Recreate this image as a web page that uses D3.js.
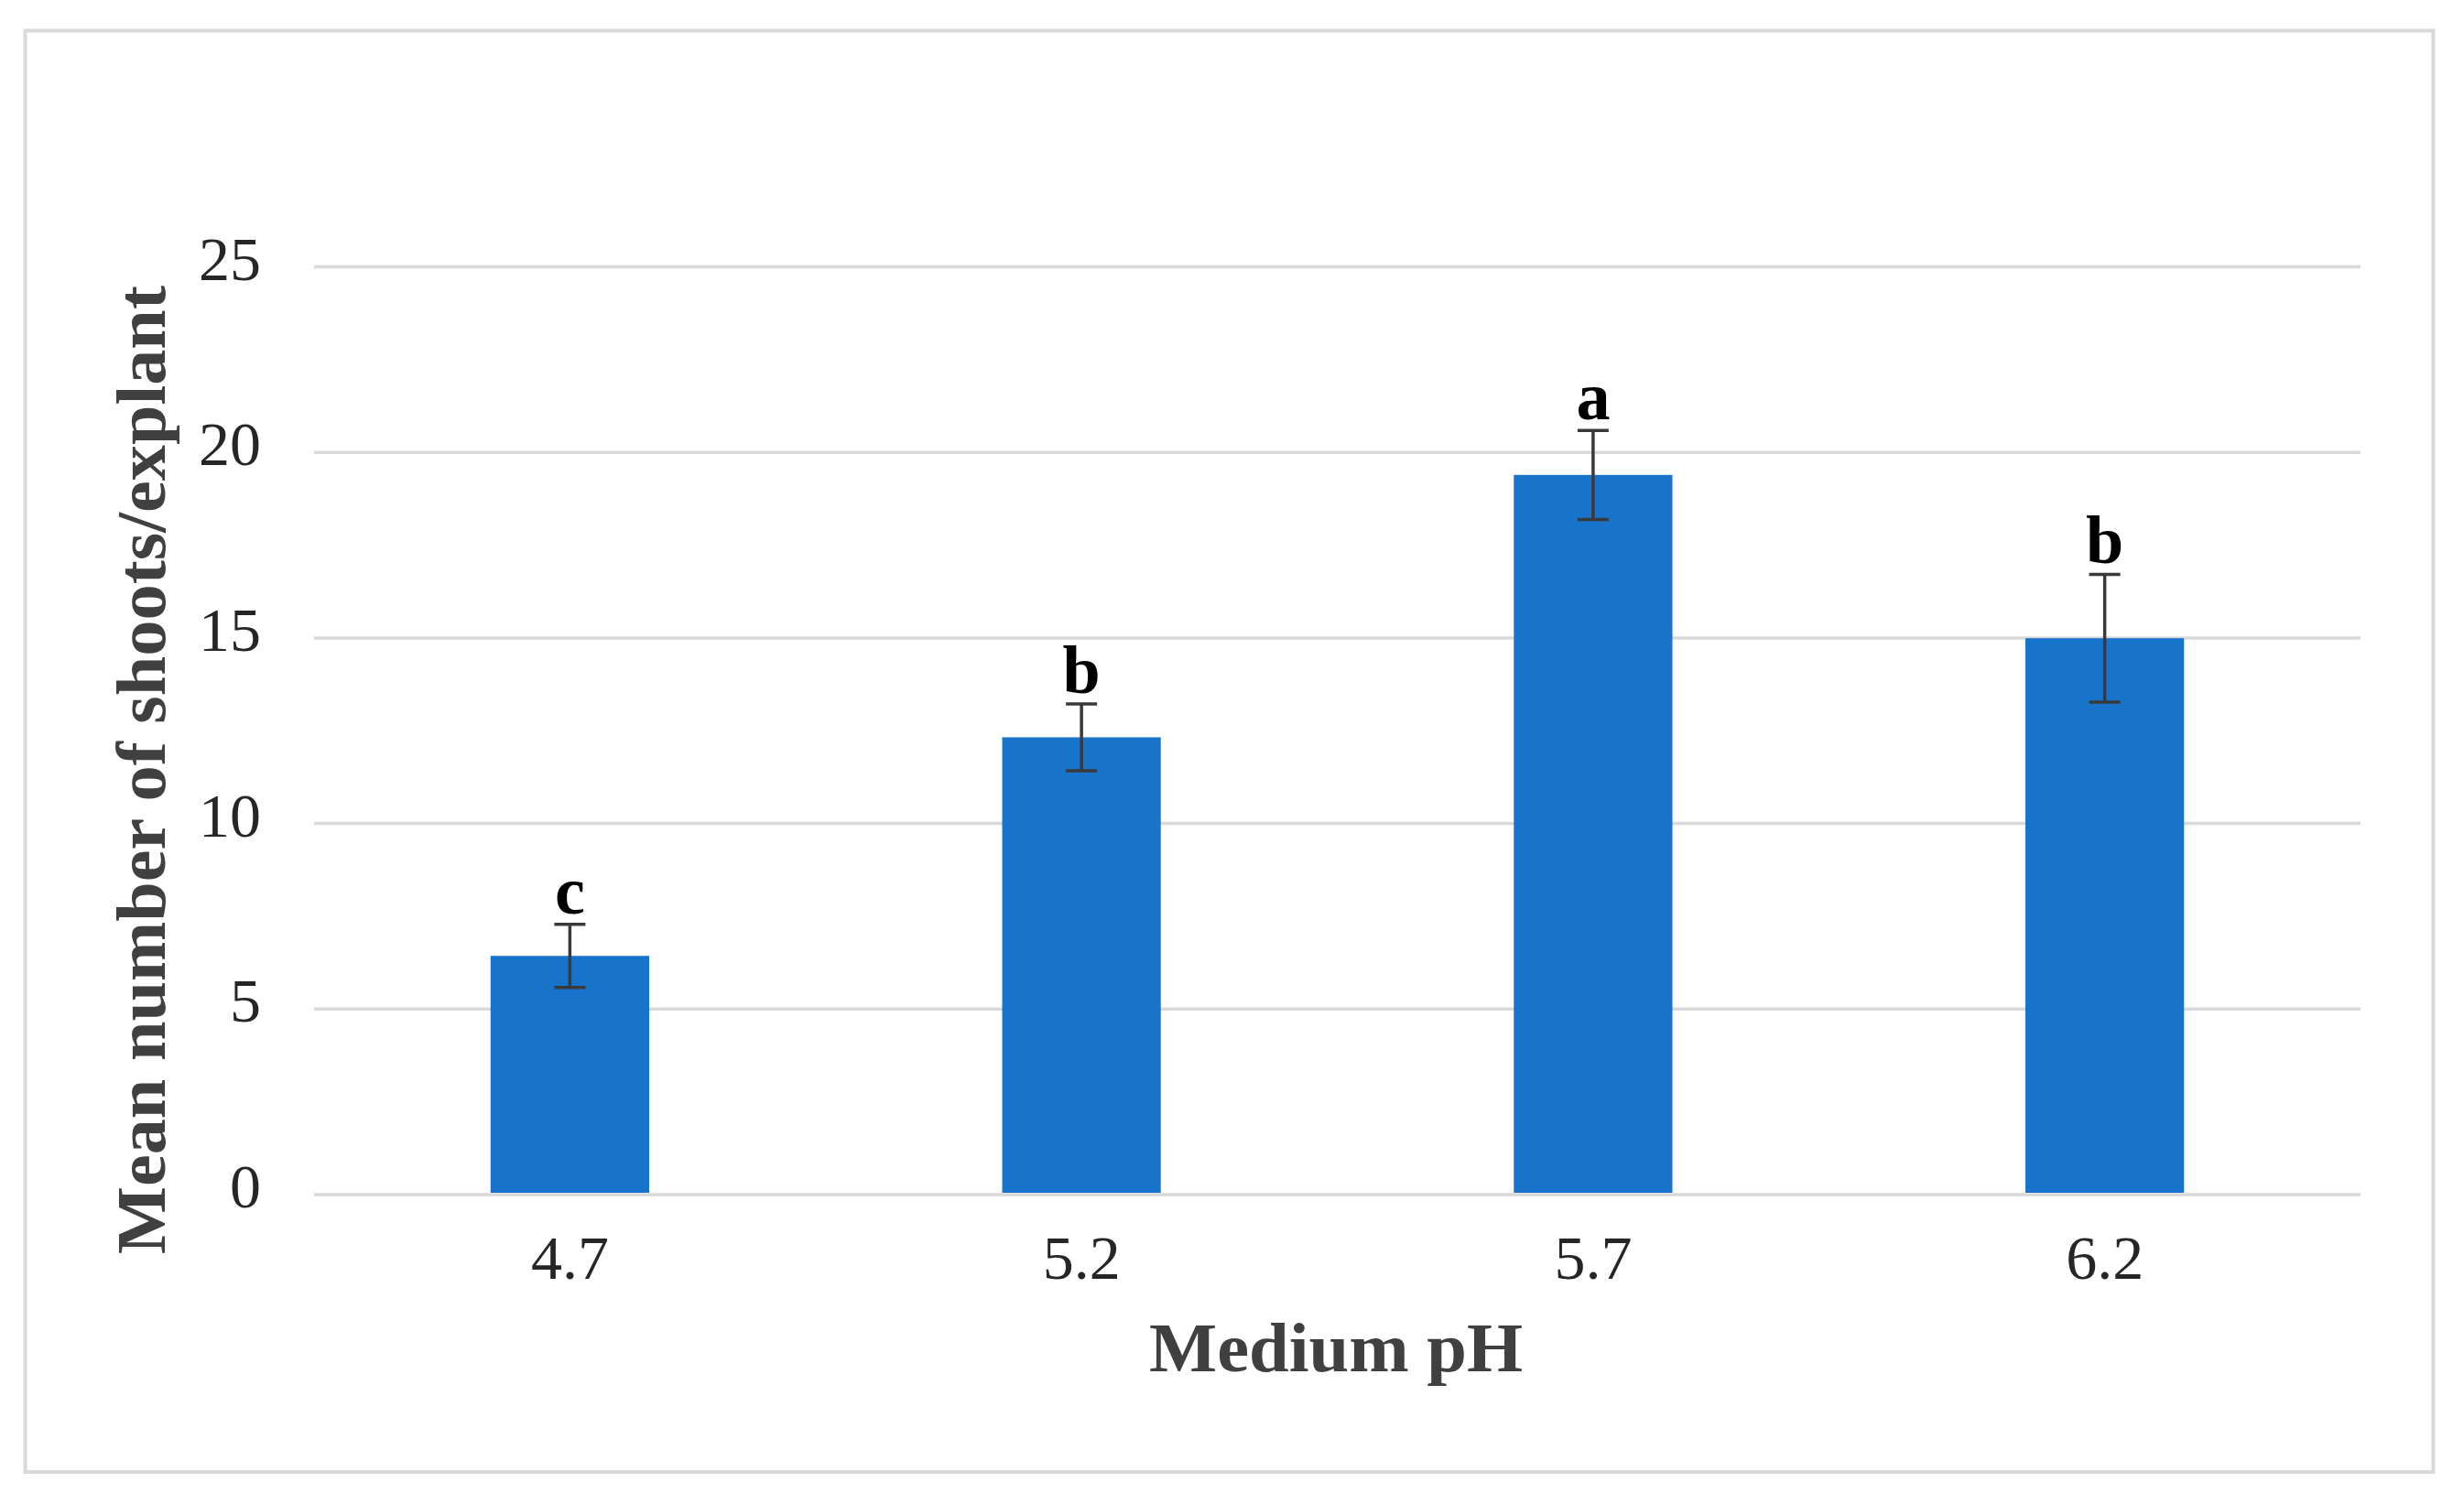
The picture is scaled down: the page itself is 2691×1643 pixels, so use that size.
<!DOCTYPE html>
<html>
<head>
<meta charset="utf-8">
<script src="https://cdn.jsdelivr.net/npm/d3@7"></script>
<style>
  html, body { margin: 0; padding: 0; background: #fff; }
  svg { display: block; }
</style>
</head>
<body>
<script>
// ---- data ----
const categories = ["4.7", "5.2", "5.7", "6.2"];
const means = [6.42, 12.31, 19.38, 14.98];
const errors = [0.85, 0.9, 1.2, 1.72];
const letters = ["c", "b", "a", "b"];
const yTicks = [0, 5, 10, 15, 20, 25];
const yTitle = "Mean number of shoots/explant";
const xTitle = "Medium pH";

// ---- layout ----
const W = 2691, H = 1643;
const plot = { left: 343, right: 2578, top: 291, bottom: 1304.5 };
const serif = "'Liberation Serif', 'Times New Roman', serif";

const svg = d3.select("body").append("svg")
  .attr("width", W).attr("height", H);

svg.append("rect").attr("width", W).attr("height", H).attr("fill", "#fff");

// outer frame
svg.append("rect")
  .attr("x", 27.5).attr("y", 33.5)
  .attr("width", 2630).attr("height", 1574.5)
  .attr("fill", "none").attr("stroke", "#d9d9d9").attr("stroke-width", 4);

const x = d3.scaleBand().domain(categories)
  .range([plot.left, plot.right]).paddingInner(0).paddingOuter(0);
const y = d3.scaleLinear().domain([0, 25]).range([plot.bottom, plot.top]);
const barW = x.bandwidth() * 0.31;

// y axis with gridlines
const yAxis = svg.append("g")
  .attr("transform", `translate(${plot.left},0)`)
  .call(d3.axisLeft(y).tickValues(yTicks)
    .tickSize(-(plot.right - plot.left)).tickPadding(58).tickFormat(d3.format("d")));
yAxis.select(".domain").remove();
yAxis.selectAll(".tick line").attr("stroke", "#d9d9d9").attr("stroke-width", 3.5);
yAxis.selectAll(".tick text")
  .attr("dy", null).attr("y", 14)
  .attr("font-family", serif).attr("font-size", 68).attr("fill", "#262626");

// bars
svg.append("g").selectAll("rect").data(categories).join("rect")
  .attr("x", (d) => x(d) + x.bandwidth() / 2 - barW / 2)
  .attr("width", barW)
  .attr("y", (d, i) => y(means[i]))
  .attr("height", (d, i) => y(0) - y(means[i]) - 1.5)
  .attr("fill", "#1873CA");

// error bars
const eb = svg.append("g").attr("stroke", "#3a3a3a").attr("stroke-width", 3.5);
categories.forEach((c, i) => {
  const cx = x(c) + x.bandwidth() / 2;
  const y1 = y(means[i] + errors[i]), y2 = y(means[i] - errors[i]);
  eb.append("line").attr("x1", cx).attr("x2", cx).attr("y1", y1).attr("y2", y2);
  eb.append("line").attr("x1", cx - 17).attr("x2", cx + 17).attr("y1", y1).attr("y2", y1);
  eb.append("line").attr("x1", cx - 17).attr("x2", cx + 17).attr("y1", y2).attr("y2", y2);
});

// significance letters
svg.append("g").selectAll("text").data(categories).join("text")
  .attr("x", (d) => x(d) + x.bandwidth() / 2)
  .attr("y", (d, i) => y(means[i] + errors[i]) - 12)
  .attr("text-anchor", "middle")
  .attr("font-family", serif).attr("font-weight", "bold").attr("font-size", 74)
  .attr("fill", "#000")
  .text((d, i) => letters[i]);

// x axis
const xAxis = svg.append("g")
  .attr("transform", `translate(0,${plot.bottom})`)
  .call(d3.axisBottom(x).tickSize(0).tickPadding(0));
xAxis.select(".domain").remove();
xAxis.selectAll(".tick text")
  .attr("dy", null).attr("y", 92)
  .attr("font-family", serif).attr("font-size", 68).attr("fill", "#262626");

// axis titles
svg.append("text")
  .attr("x", 1459).attr("y", 1498)
  .attr("text-anchor", "middle")
  .attr("font-family", serif).attr("font-weight", "bold").attr("font-size", 76)
  .attr("fill", "#404040")
  .attr("textLength", 408).attr("lengthAdjust", "spacingAndGlyphs")
  .text(xTitle);

svg.append("text")
  .attr("transform", "translate(180,841) rotate(-90)")
  .attr("text-anchor", "middle")
  .attr("font-family", serif).attr("font-weight", "bold").attr("font-size", 76)
  .attr("fill", "#404040")
  .attr("textLength", 1058).attr("lengthAdjust", "spacingAndGlyphs")
  .text(yTitle);
</script>
</body>
</html>
